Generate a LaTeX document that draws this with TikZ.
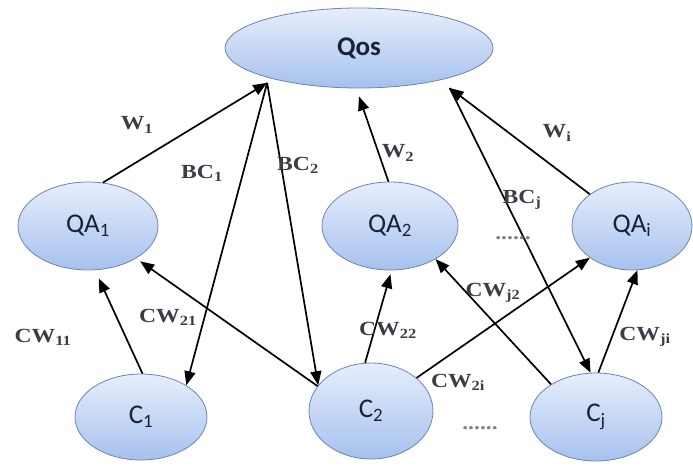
\documentclass[tikz,border=0pt]{standalone}
\usepackage{fontspec}
\usetikzlibrary{shapes.geometric,arrows.meta}
\newfontfamily\nodefont{Carlito}
\newfontfamily\lblfont[FakeStretch=1.18]{Liberation Serif}
\definecolor{ellborder}{HTML}{6A84B6}
\definecolor{elltop}{HTML}{E6EEFB}
\definecolor{ellbot}{HTML}{A6C1EE}
\definecolor{lblgray}{HTML}{3A3D45}
\definecolor{nodetxt}{HTML}{1C2236}
\tikzset{
  ell/.style={ellipse, draw=ellborder, line width=0.8pt, top color=elltop, bottom color=ellbot,
    inner sep=0pt, text=nodetxt, font=\nodefont\fontsize{27}{30}\selectfont},
  lbl/.style={text=lblgray, font=\lblfont\bfseries\fontsize{20}{24}\selectfont, inner sep=0pt},
  dotsl/.style={text=gray, font=\lblfont\bfseries\fontsize{20}{24}\selectfont, inner sep=0pt},
  conn/.style={draw=black, line width=1.7pt, -{Triangle[length=14pt,width=11pt]}},
}
\begin{document}
\begin{tikzpicture}[x=1pt,y=-1pt]
\useasboundingbox (0,0) rectangle (693,466);
% nodes
\node[ell, minimum width=268pt, minimum height=80pt] (qos) at (359,48) {\bfseries Qos};
\node[ell, minimum width=140pt, minimum height=88pt] (qa1) at (88,226) {QA\textsubscript{1}};
\node[ell, minimum width=136pt, minimum height=88pt] (qa2) at (390,226) {QA\textsubscript{2}};
\node[ell, minimum width=120pt, minimum height=88pt] (qai) at (632,226) {QA\textsubscript{i}};
\node[ell, minimum width=132pt, minimum height=86pt] (c1) at (141,417) {C\textsubscript{1}};
\node[ell, minimum width=124pt, minimum height=96pt] (c2) at (371,411) {C\textsubscript{2}};
\node[ell, minimum width=132pt, minimum height=88pt] (cj) at (596,417) {C\textsubscript{j}};
% apex points on Qos
\coordinate (apexL) at ([shift={(-9,3)}]qos.201);
\coordinate (apexR) at ([shift={(13,7)}]qos.337.5);
\coordinate (apexM) at ([shift={(0,8)}]qos.south);
% connectors
\draw[conn] (qa1.71) -- (apexL);
\draw[conn] (apexL) -- (c1.35);
\draw[conn] (apexL) -- (c2.154);
\draw[conn] (qa2.92) -- (apexM);
\draw[conn] (qai.143.6) -- (apexR);
\draw[conn] (apexR) -- (cj.97);
\draw[conn, shorten >=9pt] (c1.88) -- (qa1.279);
\draw[conn, shorten >=5pt] (c2.155) -- (qa1.326);
\draw[conn, shorten >=4pt] (c2.97) -- (qa2.272);
\draw[conn] (c2.36) -- (qai.217.3);
\draw[conn] (cj.144) -- (qa2.324.7);
\draw[conn] (cj.87) -- (qai.277);
% labels
\node[lbl] (lw1) at (137,125) {W\textsubscript{1}};
\node[lbl] (lbc1) at (202,173) {BC\textsubscript{1}};
\node[lbl] (lbc2) at (298,165) {BC\textsubscript{2}};
\node[lbl] (lw2) at (398,153) {W\textsubscript{2}};
\node[lbl] (lwi) at (557,133) {W\textsubscript{i}};
\node[lbl] (lbcj) at (522,200) {BC\textsubscript{j}};
\node[lbl] (lcw11) at (43,337) {CW\textsubscript{11}};
\node[lbl] (lcw21) at (168,317) {CW\textsubscript{21}};
\node[lbl] (lcw22) at (388,330) {CW\textsubscript{22}};
\node[lbl] (lcwj2) at (493,293) {CW\textsubscript{j2}};
\node[lbl] (lcw2i) at (458,382) {CW\textsubscript{2i}};
\node[lbl] (lcwji) at (645,337) {CW\textsubscript{ji}};
\node[dotsl] (dots1) at (513,238) {......};
\node[dotsl] (dots2) at (480,428) {......};
\end{tikzpicture}
\end{document}
